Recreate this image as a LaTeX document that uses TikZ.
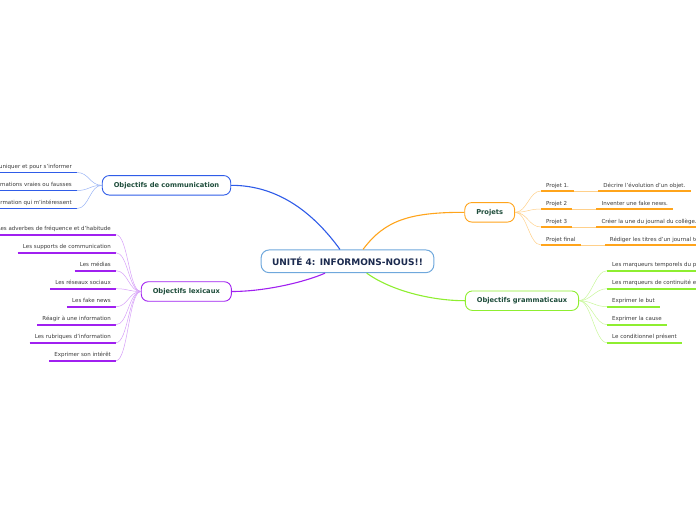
\documentclass[tikz,border=0pt]{standalone}
\usepackage{fontspec}
\setmainfont{DejaVu Sans}
\usetikzlibrary{positioning}
\definecolor{maintext}{HTML}{1B2A4E}
\definecolor{topictext}{HTML}{1E4D3B}
\definecolor{leaftext}{HTML}{3A3A3A}
\definecolor{mainline}{HTML}{6FA8DC}
\definecolor{comblue}{HTML}{2F5CE8}
\definecolor{comlight}{HTML}{9AB4F5}
\definecolor{lexpurple}{HTML}{A020F0}
\definecolor{lexlight}{HTML}{D6A0F8}
\definecolor{projorange}{HTML}{FFA41B}
\definecolor{projlight}{HTML}{FFD08A}
\definecolor{gramgreen}{HTML}{8EEE30}
\definecolor{gramlight}{HTML}{C8F79A}
\tikzset{
  topic/.style={draw=#1, line width=0.9pt, rounded corners=7pt, fill=white,
    text=topictext, font=\fontsize{6.7}{8}\selectfont\bfseries,
    inner xsep=11.5pt, minimum height=19.5pt},
  leaf/.style={text=leaftext, font=\fontsize{5.5}{6.5}\selectfont,
    inner xsep=5pt, inner ysep=2.5pt, text height=4pt, text depth=1.2pt,
    append after command={(\tikzlastnode.south west) edge[draw=#1, line width=1.6pt] (\tikzlastnode.south east)}},
  branch/.style={draw=#1, line width=1.1pt},
  twig/.style={draw=#1, line width=0.5pt}
}
\begin{document}
\begin{tikzpicture}[x=1pt,y=-1pt]
\useasboundingbox (0,0) rectangle (696,520);
\clip (0,0) rectangle (696,520);
% centre
\node[draw=mainline, line width=1pt, rounded corners=8pt, fill=white, text=maintext,
  font=\fontsize{9}{11}\selectfont\bfseries, inner xsep=11pt, minimum height=22.7pt] (main) at (347.5,261.3) {UNITÉ 4: INFORMONS-NOUS!!};
% topics
\node[topic=comblue] (com) at (166.5,185.3) {Objectifs de communication};
\node[topic=lexpurple] (lex) at (186.3,291.5) {Objectifs lexicaux};
\node[topic=projorange] (proj) at (489.7,212.3) {Projets};
\node[topic=gramgreen] (gram) at (522,300.7) {Objectifs grammaticaux};
\draw[branch=comblue] ([xshift=-7.5pt]main.north) .. controls (315,215) and (280,185.3) .. (com.east);
\draw[branch=projorange] ([xshift=15.5pt]main.north) .. controls (385,220) and (410,212.3) .. (proj.west);
\draw[branch=lexpurple] ([xshift=-22.5pt]main.south) .. controls (305,282) and (265,291.5) .. (lex.east);
\draw[branch=gramgreen] ([xshift=19.2pt]main.south) .. controls (390,290) and (430,300.7) .. (gram.west);
% communication
\foreach \t [count=\i] in {Les moyens pour communiquer et pour s'informer,
    Distinguer des informations vraies ou fausses,
    Parler d'une information qui m'intéressent}{
  \node[leaf=comblue, anchor=south east] (com\i) at (77,154.5+18*\i) {\t};
  \draw[twig=comlight] (com.west) .. controls +(-12,0) and +(12,0) .. (com\i.south east);
}
% lexique
\foreach \t [count=\i] in {Les adverbes de fréquence et d'habitude,
    Les supports de communication, Les médias, Les réseaux sociaux,
    Les fake news, Réagir à une information, Les rubriques d'information,
    Exprimer son intérêt}{
  \node[leaf=lexpurple, anchor=south east] (lex\i) at (116,216.7+18*\i) {\t};
  \draw[twig=lexlight] (lex.west) .. controls +(-12,0) and +(12,0) .. (lex\i.south east);
}
% projets
\foreach \t/\g [count=\i] in {Projet 1./Décrire l'évolution d'un objet.,
    Projet 2/Inventer une fake news.,
    Projet 3/Créer la une du journal du collège.,
    Projet final/Rédiger les titres d'un journal télévisé.}{
  \node[leaf=projorange, anchor=south west] (proj\i) at (541,173+18*\i) {\t};
  \node[leaf=projorange, right=24pt of proj\i] (task\i) {\g};
  \draw[twig=projlight] (proj.east) .. controls +(12,0) and +(-12,0) .. (proj\i.south west);
  \draw[twig=projlight] (proj\i.south east) -- (task\i.south west);
}
% grammaire
\foreach \t [count=\i] in {Les marqueurs temporels du passé,
    Les marqueurs de continuité et de rupture, Exprimer le but,
    Exprimer la cause, Le conditionnel présent}{
  \node[leaf=gramgreen, anchor=south west] (gram\i) at (607,252.7+18*\i) {\t};
  \draw[twig=gramlight] (gram.east) .. controls +(12,0) and +(-12,0) .. (gram\i.south west);
}
\end{tikzpicture}
\end{document}
